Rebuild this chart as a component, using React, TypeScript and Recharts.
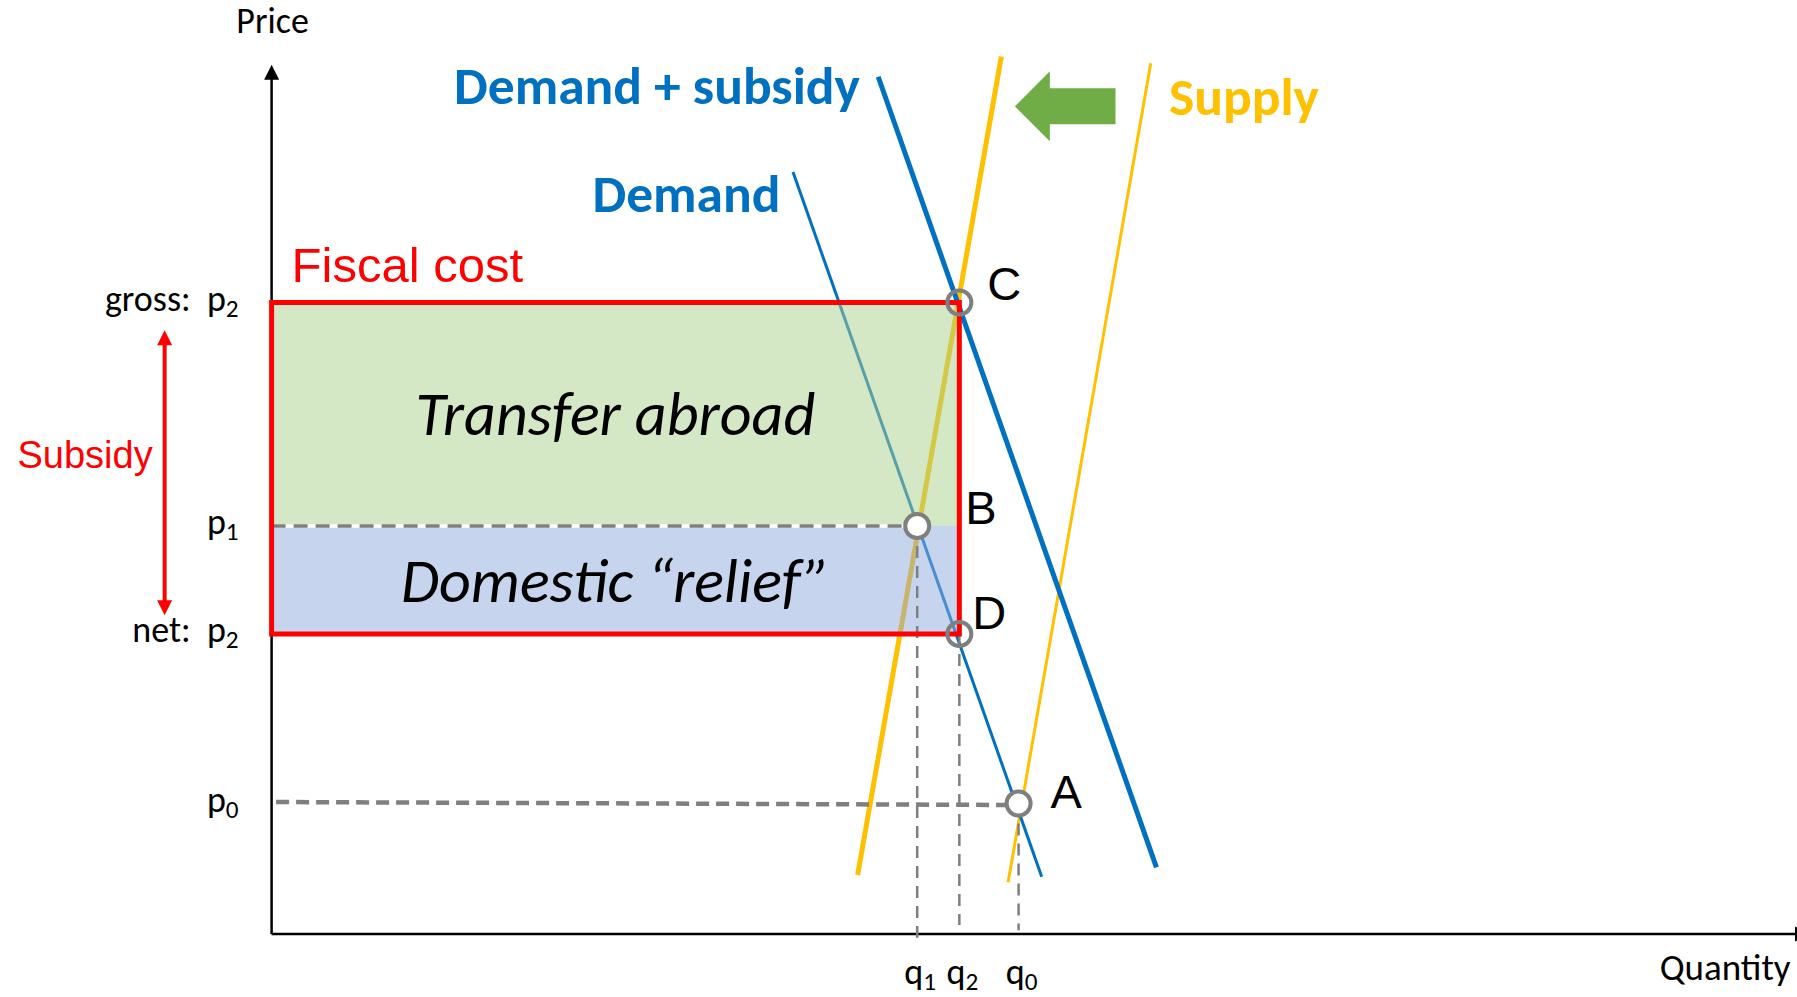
import React from 'react';
import {
  ComposedChart,
  XAxis,
  YAxis,
  Line,
  Scatter,
  ReferenceArea,
  ReferenceLine,
  ReferenceDot,
} from 'recharts';

// curves as two end points each (quantity q, price p)
const demand = [{ q: 34.76, p: 101.6 }, { q: 51.34, p: 7.64 }];
const demandSubsidy = [{ q: 40.44, p: 114.3 }, { q: 58.99, p: 8.88 }];
const supply = [{ q: 49.1, p: 6.89 }, { q: 58.61, p: 116.1 }];
const supplyShifted = [{ q: 39.07, p: 7.87 }, { q: 48.65, p: 117.0 }];

// price levels: gross p2, p1, net p2, p0
const priceLevels = [84.2, 54.4, 40.0, 17.4];
const priceTickLabels = ['gross:\u00a0 p|2', 'p|1', 'net:\u00a0 p|2', 'p|0'];

// quantity levels: q1, q2, q0
const quantityLevels = [43.04, 45.85, 49.8];
const quantityTickLabels = ['q|1', 'q|2', 'q|0'];

const [pGross, p1, pNet, p0] = priceLevels;
const [q1, q2, q0] = quantityLevels;

const points = [
  { name: 'C', q: q2, p: pGross },
  { name: 'B', q: q1, p: p1 },
  { name: 'D', q: q2, p: pNet },
  { name: 'A', q: q0, p: p0 },
];

const CAL = 'Carlito, Calibri, Lato, sans-serif';
const ARIAL = 'Arial, "Liberation Sans", Helvetica, sans-serif';
const BLUE = '#0070C0';
const YELLOW = '#FFC000';
const RED = '#FF0000';
const GREY = '#7F7F7F';

function withSub(label: string, size: number) {
  const [main, sub] = label.split('|');
  return (
    <>
      {main}
      <tspan fontSize={size * 0.7} dy={size * 0.17}>{sub}</tspan>
    </>
  );
}

type TextOpts = {
  dx?: number;
  dy?: number;
  size: number;
  family?: string;
  color?: string;
  anchor?: 'start' | 'middle' | 'end';
  weight?: string | number;
  italic?: boolean;
};

const textShape = (content: React.ReactNode, o: TextOpts) => (props: any) => (
  <text
    x={props.cx + (o.dx ?? 0)}
    y={props.cy + (o.dy ?? 0)}
    fontFamily={o.family ?? CAL}
    fontSize={o.size}
    fill={o.color ?? '#000'}
    textAnchor={o.anchor ?? 'start'}
    fontWeight={o.weight ?? 'normal'}
    fontStyle={o.italic ? 'italic' : 'normal'}
    style={{ whiteSpace: 'pre' }}
  >
    {content}
  </text>
);

// straight line with a triangular head at the end (and optionally at the start)
const arrowShape = (both: boolean, len: number, half: number) => (props: any) => {
  const { x1, y1, x2, y2, stroke, strokeWidth } = props;
  const a = Math.atan2(y2 - y1, x2 - x1);
  const ux = Math.cos(a);
  const uy = Math.sin(a);
  const head = (tx: number, ty: number, s: number) => {
    const bx = tx - s * ux * len;
    const by = ty - s * uy * len;
    return `${tx},${ty} ${bx - uy * half},${by + ux * half} ${bx + uy * half},${by - ux * half}`;
  };
  const sx = both ? x1 + ux * len * 0.8 : x1;
  const sy = both ? y1 + uy * len * 0.8 : y1;
  return (
    <g>
      <line x1={sx} y1={sy} x2={x2 - ux * len * 0.8} y2={y2 - uy * len * 0.8} stroke={stroke} strokeWidth={strokeWidth} />
      <polygon points={head(x2, y2, 1)} fill={stroke} />
      {both && <polygon points={head(x1, y1, -1)} fill={stroke} />}
    </g>
  );
};

// block arrow pointing from (x1,y1) to (x2,y1)
const blockArrow = (props: any) => {
  const { x1, y1, x2 } = props;
  const d = Math.sign(x2 - x1);
  const hb = x2 - d * 35;
  const pts = [
    [x1, y1 - 18], [hb, y1 - 18], [hb, y1 - 35], [x2, y1],
    [hb, y1 + 35], [hb, y1 + 18], [x1, y1 + 18],
  ];
  return <polygon points={pts.map((p) => p.join(',')).join(' ')} fill="#70AD47" />;
};

const pointShape = (props: any) => {
  const hollow = props.payload?.name === 'C' || props.payload?.name === 'D';
  return (
    <circle cx={props.cx} cy={props.cy} r={12} fill={hollow ? 'none' : '#fff'} stroke={GREY} strokeWidth={4} />
  );
};

const pointLabelOffset: Record<string, [number, number]> = {
  C: [28, -3],
  B: [48, -2],
  D: [13, -5],
  A: [32, 4],
};

export default function App() {
  return (
    <div style={{ position: 'absolute', left: 0, top: 0, width: 1797, height: 997, background: '#fff' }}>
      <ComposedChart width={1797} height={997} margin={{ top: 34, right: 25.4, bottom: 63, left: 271.6 }}>
        <XAxis type="number" dataKey="q" domain={[0, 100]} hide />
        <YAxis type="number" dataKey="p" domain={[0, 120]} hide />

        {/* axes */}
        <ReferenceLine
          segment={[{ x: 0, y: 0 }, { x: 0, y: 115.9 }]}
          stroke="#000"
          strokeWidth={2.5}
          ifOverflow="visible"
          shape={arrowShape(false, 15, 7.5)}
          zIndex={380}
        />
        <ReferenceLine
          segment={[{ x: 0, y: 0 }, { x: 102.56, y: 0 }]}
          stroke="#000"
          strokeWidth={2.5}
          ifOverflow="visible"
          shape={arrowShape(false, 15, 7.5)}
          zIndex={380}
        />

        {/* curves */}
        <Line data={supply} dataKey="p" stroke={YELLOW} strokeWidth={3} dot={false} isAnimationActive={false} zIndex={400} />
        <Line data={supplyShifted} dataKey="p" stroke={YELLOW} strokeWidth={5} dot={false} isAnimationActive={false} zIndex={400} />
        <Line data={demand} dataKey="p" stroke={BLUE} strokeWidth={3} dot={false} isAnimationActive={false} zIndex={400} />
        <Line data={demandSubsidy} dataKey="p" stroke={BLUE} strokeWidth={5} dot={false} isAnimationActive={false} zIndex={400} />

        {/* fiscal cost split */}
        <ReferenceArea x1={0} x2={q2} y1={p1} y2={pGross} fill="#A9D18E" fillOpacity={0.5} stroke="none" zIndex={450} />
        <ReferenceArea x1={0} x2={q2} y1={pNet} y2={p1} fill="#8FAADC" fillOpacity={0.5} stroke="none" zIndex={450} />

        {/* guides */}
        <ReferenceLine segment={[{ x: 0, y: p1 }, { x: q1, y: p1 }]} stroke="#fff" strokeWidth={3.5} ifOverflow="visible" zIndex={455} />
        <ReferenceLine segment={[{ x: 0, y: p1 }, { x: q1, y: p1 }]} stroke={GREY} strokeWidth={3.5} strokeDasharray="14 8" ifOverflow="visible" zIndex={456} />
        <ReferenceLine segment={[{ x: 0.3, y: p0 + 0.2 }, { x: q0, y: p0 - 0.2 }]} stroke={GREY} strokeWidth={4.5} strokeDasharray="13 7" ifOverflow="visible" zIndex={456} />
        <ReferenceLine segment={[{ x: q1, y: p1 }, { x: q1, y: -0.5 }]} stroke={GREY} strokeWidth={2.5} strokeDasharray="12 8" ifOverflow="visible" zIndex={456} />
        <ReferenceLine segment={[{ x: q2, y: pNet }, { x: q2, y: 1.2 }]} stroke={GREY} strokeWidth={2.5} strokeDasharray="12 8" ifOverflow="visible" zIndex={456} />
        <ReferenceLine segment={[{ x: q0, y: p0 }, { x: q0, y: 0.5 }]} stroke={GREY} strokeWidth={2.5} strokeDasharray="12 8" ifOverflow="visible" zIndex={456} />

        <ReferenceArea x1={0} x2={q2} y1={pNet} y2={pGross} fill="none" stroke={RED} strokeWidth={5} zIndex={460} />

        {/* subsidy arrow and shift arrow */}
        <ReferenceLine
          segment={[{ x: -7.13, y: pNet + 2.5 }, { x: -7.13, y: pGross - 3.7 }]}
          stroke={RED}
          strokeWidth={4}
          ifOverflow="visible"
          shape={arrowShape(true, 15, 7.5)}
          zIndex={470}
        />
        <ReferenceLine
          segment={[{ x: 56.26, y: 110.36 }, { x: 49.55, y: 110.36 }]}
          stroke="#70AD47"
          ifOverflow="visible"
          shape={blockArrow}
          zIndex={470}
        />

        <Scatter data={points} dataKey="p" shape={pointShape} isAnimationActive={false} zIndex={600} />

        {/* point labels */}
        {points.map((pt) => (
          <ReferenceDot
            key={pt.name}
            x={pt.q}
            y={pt.p}
            r={0}
            ifOverflow="visible"
            zIndex={700}
            shape={textShape(pt.name, {
              size: 47,
              family: ARIAL,
              dx: pointLabelOffset[pt.name][0],
              dy: pointLabelOffset[pt.name][1],
            })}
          />
        ))}

        {/* price tick labels */}
        {priceLevels.map((p, i) => (
          <ReferenceDot
            key={'p' + i}
            x={0}
            y={p}
            r={0}
            ifOverflow="visible"
            zIndex={700}
            shape={textShape(withSub(priceTickLabels[i], 36), { size: 36, dx: -33, dy: 8, anchor: 'end' })}
          />
        ))}

        {/* quantity tick labels */}
        {quantityLevels.map((q, i) => (
          <ReferenceDot
            key={'q' + i}
            x={q}
            y={0}
            r={0}
            ifOverflow="visible"
            zIndex={700}
            shape={textShape(withSub(quantityTickLabels[i], 36), { size: 36, dx: 3, dy: 50, anchor: 'middle' })}
          />
        ))}

        {/* axis titles */}
        <ReferenceDot x={0} y={120.2} r={0} ifOverflow="visible" zIndex={700} shape={textShape('Price', { size: 36, anchor: 'middle', dx: 1 })} />
        <ReferenceDot x={96.9} y={-6.1} r={0} ifOverflow="visible" zIndex={700} shape={textShape('Quantity', { size: 37, anchor: 'middle' })} />

        {/* curve labels */}
        <ReferenceDot x={12.16} y={110.67} r={0} ifOverflow="visible" zIndex={700}
          shape={textShape('Demand + subsidy', { size: 53.5, weight: 'bold', color: BLUE })} />
        <ReferenceDot x={21.39} y={96.27} r={0} ifOverflow="visible" zIndex={700}
          shape={textShape('Demand', { size: 53.5, weight: 'bold', color: BLUE })} />
        <ReferenceDot x={59.83} y={109.2} r={0} ifOverflow="visible" zIndex={700}
          shape={textShape('Supply', { size: 53.5, weight: 'bold', color: YELLOW })} />

        {/* area labels */}
        <ReferenceDot x={0} y={pGross} r={0} ifOverflow="visible" zIndex={700}
          shape={textShape('Fiscal cost', { size: 49, family: ARIAL, color: RED, dx: 20, dy: -21 })} />
        <ReferenceDot x={q2 / 2} y={(p1 + pGross) / 2} r={0} ifOverflow="visible" zIndex={700}
          shape={textShape('Transfer abroad', { size: 62, italic: true, anchor: 'middle', dy: 21 })} />
        <ReferenceDot x={q2 / 2} y={(pNet + p1) / 2} r={0} ifOverflow="visible" zIndex={700}
          shape={textShape('Domestic \u201crelief\u201d', { size: 62, italic: true, anchor: 'middle', dy: 22 })} />
        <ReferenceDot x={-7.13} y={62.09} r={0} ifOverflow="visible" zIndex={700}
          shape={textShape('Subsidy', { size: 38, family: ARIAL, color: RED, anchor: 'end', dx: -12 })} />
      </ComposedChart>
    </div>
  );
}
